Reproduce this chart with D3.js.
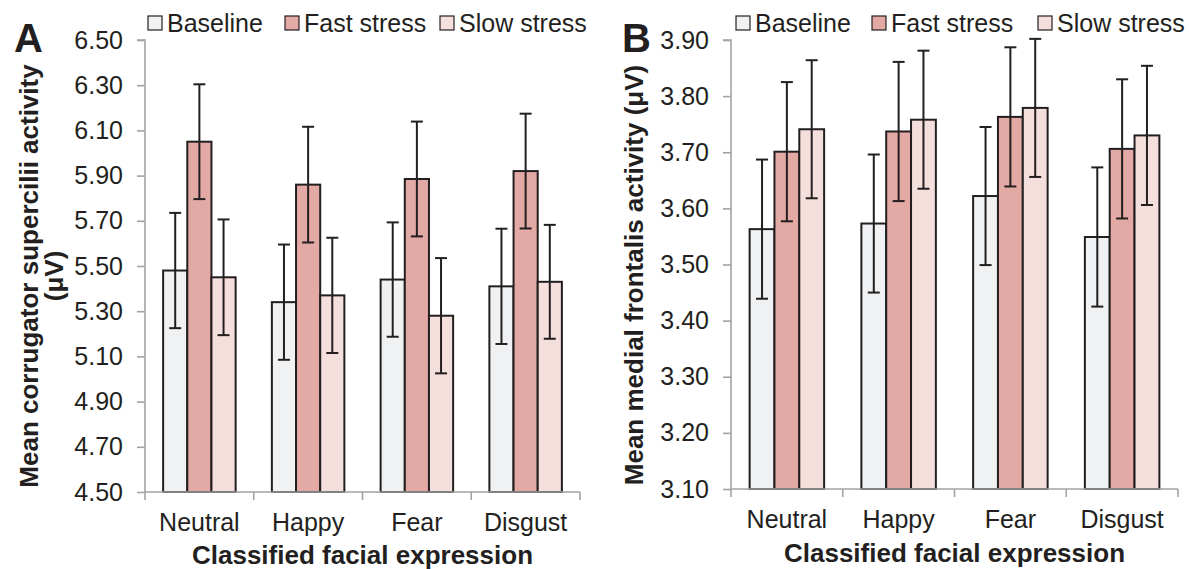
<!DOCTYPE html>
<html>
<head>
<meta charset="utf-8">
<script src="https://cdn.jsdelivr.net/npm/d3@7"></script>
<style>
  html, body { margin: 0; padding: 0; background: #fff; }
  svg text { font-family: "Liberation Sans", Arial, sans-serif; fill: #231f20; }
</style>
</head>
<body>
<svg id="chart" width="1189" height="569"></svg>
<script>
// Categories and series
const categories = ["Neutral", "Happy", "Fear", "Disgust"];
const seriesNames = ["Baseline", "Fast stress", "Slow stress"];
const seriesColors = ["#f0f1f3", "#e3a9a4", "#f5dfdd"];

// Panel A: mean corrugator supercilii activity (µV), rows = series, cols = categories
const corrBaseline = [5.48, 5.34, 5.44, 5.41];
const corrFast     = [6.05, 5.86, 5.885, 5.92];
const corrSlow     = [5.45, 5.37, 5.28, 5.43];
const corrErr      = [[0.255, 0.255, 0.253, 0.255],
                      [0.254, 0.256, 0.254, 0.254],
                      [0.256, 0.255, 0.255, 0.252]];
const corrTicks = ["4.50", "4.70", "4.90", "5.10", "5.30", "5.50", "5.70", "5.90", "6.10", "6.30", "6.50"];

// Panel B: mean medial frontalis activity (µV)
const frontBaseline = [3.563, 3.573, 3.622, 3.549];
const frontFast     = [3.701, 3.737, 3.763, 3.706];
const frontSlow     = [3.741, 3.758, 3.779, 3.730];
const frontErr      = [[0.124, 0.123, 0.123, 0.124],
                       [0.124, 0.124, 0.124, 0.124],
                       [0.123, 0.123, 0.123, 0.124]];
const frontTicks = ["3.10", "3.20", "3.30", "3.40", "3.50", "3.60", "3.70", "3.80", "3.90"];

const svg = d3.select("#chart");
const ink = "#231f20";
const axisGrey = "#a3a3a3";

function drawPanel(cfg) {
  const g = svg.append("g");
  const tickVals = cfg.ticks.map(Number);
  const y = d3.scaleLinear()
    .domain([tickVals[0], tickVals[tickVals.length - 1]])
    .range([cfg.bottom, cfg.top]);
  const x0 = d3.scaleBand().domain(categories).range([cfg.left, cfg.right]).padding(0);
  const x1 = d3.scaleBand().domain(seriesNames).range([0, x0.bandwidth()])
    .paddingInner(0).paddingOuter(0.75);

  const values = [cfg.s0, cfg.s1, cfg.s2];

  // Bars
  seriesNames.forEach((s, si) => {
    g.selectAll(null)
      .data(categories.map((c, ci) => ({ c, v: values[si][ci], e: cfg.err[si][ci] })))
      .join("rect")
      .attr("x", d => x0(d.c) + x1(s))
      .attr("y", d => y(d.v))
      .attr("width", x1.bandwidth())
      .attr("height", d => y(tickVals[0]) - y(d.v))
      .attr("fill", seriesColors[si])
      .attr("stroke", ink)
      .attr("stroke-width", 2);
  });

  // Error bars
  const cap = 6;
  seriesNames.forEach((s, si) => {
    const data = categories.map((c, ci) => ({ c, v: values[si][ci], e: cfg.err[si][ci] }));
    const cx = d => x0(d.c) + x1(s) + x1.bandwidth() / 2;
    const eg = g.append("g").attr("stroke", ink).attr("stroke-width", 2);
    eg.selectAll(null).data(data).join("line")
      .attr("x1", cx).attr("x2", cx)
      .attr("y1", d => y(d.v - d.e)).attr("y2", d => y(d.v + d.e));
    eg.selectAll(null).data(data).join("line")
      .attr("x1", d => cx(d) - cap).attr("x2", d => cx(d) + cap)
      .attr("y1", d => y(d.v + d.e)).attr("y2", d => y(d.v + d.e));
    eg.selectAll(null).data(data).join("line")
      .attr("x1", d => cx(d) - cap).attr("x2", d => cx(d) + cap)
      .attr("y1", d => y(d.v - d.e)).attr("y2", d => y(d.v - d.e));
  });

  // Y axis
  const yAxis = d3.axisLeft(y).tickValues(tickVals)
    .tickFormat((d, i) => cfg.ticks[i]).tickSize(8).tickPadding(14);
  const ya = g.append("g").attr("transform", `translate(${cfg.left},0)`).call(yAxis);
  ya.select(".domain").attr("stroke", axisGrey).attr("stroke-width", 1.6).attr("d",
    `M${-8},${cfg.top}H0V${cfg.bottom}`);
  ya.selectAll(".tick line").attr("stroke", axisGrey).attr("stroke-width", 1.6);
  ya.selectAll(".tick text").attr("font-size", 25).attr("fill", ink)
    .style("font-family", "'Liberation Sans', Arial, sans-serif");

  // X axis: ticks at category boundaries
  const xa = g.append("g").attr("transform", `translate(0,${cfg.bottom})`);
  xa.append("line").attr("x1", cfg.left).attr("x2", cfg.right)
    .attr("stroke", axisGrey).attr("stroke-width", 1.6);
  const bounds = categories.map(c => x0(c)).concat([cfg.right]);
  xa.selectAll(null).data(bounds).join("line")
    .attr("x1", d => d).attr("x2", d => d).attr("y1", 0).attr("y2", 8)
    .attr("stroke", axisGrey).attr("stroke-width", 1.6);
  xa.selectAll(null).data(categories).join("text")
    .attr("x", c => x0(c) + x0.bandwidth() / 2)
    .attr("y", 39)
    .attr("text-anchor", "middle")
    .attr("font-size", 25)
    .text(c => c);

  // Axis titles
  g.append("text")
    .attr("x", (cfg.left + cfg.right) / 2)
    .attr("y", cfg.xTitleY)
    .attr("text-anchor", "middle")
    .attr("font-size", 26).attr("font-weight", "bold")
    .text("Classified facial expression");

  const yt = g.append("text")
    .attr("transform", `translate(${cfg.yTitleX},${cfg.yTitleCY}) rotate(-90)`)
    .attr("text-anchor", "middle")
    .attr("font-size", 26).attr("font-weight", "bold");
  cfg.yTitle.forEach((line, i) => {
    yt.append("tspan").attr("x", 0).attr("dy", i === 0 ? 0 : 25).text(line);
  });

  // Panel letter
  g.append("text")
    .attr("x", cfg.letterX).attr("y", 52)
    .attr("font-size", 40).attr("font-weight", "bold")
    .text(cfg.letter);

  // Legend
  const lg = g.append("g");
  seriesNames.forEach((s, si) => {
    lg.append("rect")
      .attr("x", cfg.legendX[si]).attr("y", 16)
      .attr("width", 14).attr("height", 14)
      .attr("fill", seriesColors[si]).attr("stroke", ink).attr("stroke-width", 1.2);
    lg.append("text")
      .attr("x", cfg.legendX[si] + 19).attr("y", 32)
      .attr("font-size", 25)
      .text(s);
  });
}

drawPanel({
  letter: "A", letterX: 14,
  left: 145, right: 580, top: 40, bottom: 492,
  ticks: corrTicks,
  s0: corrBaseline, s1: corrFast, s2: corrSlow, err: corrErr,
  xTitleY: 564,
  yTitle: ["Mean corrugator supercilii activity", "(\u03bcV)"],
  yTitleX: 38, yTitleCY: 276,
  legendX: [148, 285, 440]
});

drawPanel({
  letter: "B", letterX: 622,
  left: 731, right: 1178, top: 40, bottom: 489,
  ticks: frontTicks,
  s0: frontBaseline, s1: frontFast, s2: frontSlow, err: frontErr,
  xTitleY: 562,
  yTitle: ["Mean medial frontalis activity (\u03bcV)"],
  yTitleX: 643, yTitleCY: 275,
  legendX: [736, 872, 1038]
});
</script>
</body>
</html>
